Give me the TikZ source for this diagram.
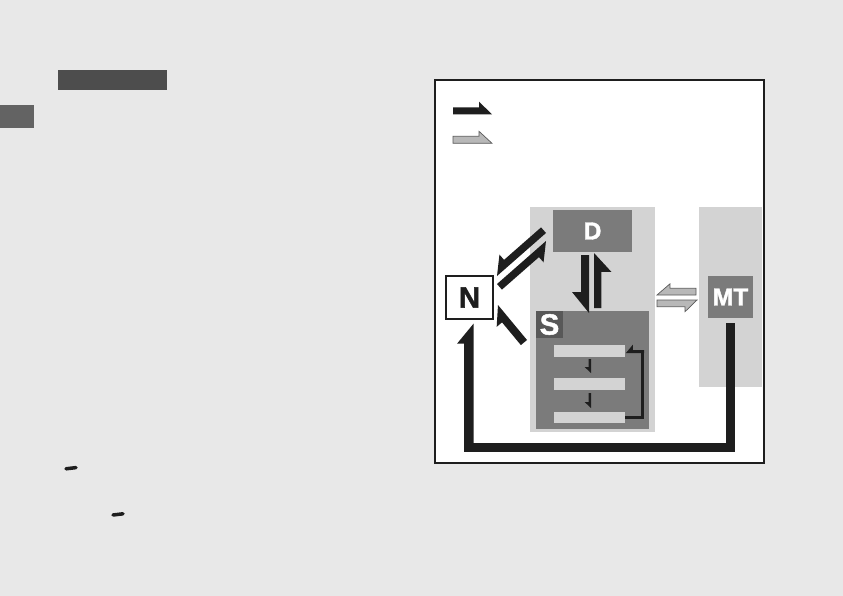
\documentclass[tikz,border=0pt]{standalone}
\usepackage{fontspec}
\setsansfont{Liberation Sans}
\newfontfamily\heavyfont[FakeBold=1.6]{Liberation Sans}
\usetikzlibrary{calc}

\definecolor{pagegray}{HTML}{E8E8E8}
\definecolor{panelgray}{HTML}{D3D3D3}
\definecolor{boxgray}{HTML}{7B7B7B}
\definecolor{labelgray}{HTML}{585858}
\definecolor{arrowgray}{HTML}{B8B8B8}
\definecolor{arrowline}{HTML}{5A5A5A}
\definecolor{inkblack}{HTML}{1E1E1E}
\definecolor{headgray}{HTML}{4D4D4D}
\definecolor{tabgray}{HTML}{636363}

% half arrow: [style]{from}{to}{side angle}{shaft}{barb}{head length}, sizes in px
\newcommand\harrow[7][]{%
  \pgfmathsetlengthmacro\arw{#5*0.8504}%
  \pgfmathsetlengthmacro\arb{(#5+#6)*0.8504}%
  \pgfmathsetlengthmacro\arh{#7*0.8504}%
  \path[#1] (#2) -- ($(#2)!\arw!#4:(#3)$) -- ($(#3)!\arh!(#2)!\arw!#4:(#3)$)
    -- ($(#3)!\arh!(#2)!\arb!#4:(#3)$) -- (#3) -- cycle;}

\tikzset{
  greybox/.style={fill=boxgray, inner sep=0pt, text=white,
    font=\heavyfont\bfseries\fontsize{21}{21}\selectfont},
  nbox/.style={greybox, fill=white, draw=inkblack, line width=1.2pt, text=inkblack,
    font=\heavyfont\bfseries\fontsize{25}{25}\selectfont},
  bar/.style={fill=panelgray, minimum width=2.13cm, minimum height=0.35cm, inner sep=0pt},
  blackarr/.style={fill=inkblack},
  greyarr/.style={fill=arrowgray, draw=arrowline, line width=0.6pt},
}

\begin{document}
\begin{tikzpicture}[x=0.03cm, y=-0.03cm]
	%%%%% PAGE %%%%%
	\fill[pagegray] (0,0) rectangle (843,596);
	\useasboundingbox (0,0) rectangle (843,596);
	
	\fill[headgray] (58,70) rectangle (167,90);
	\fill[tabgray] (0,105) rectangle (34,128);
	\draw[inkblack, line width=3pt, line cap=round] (66,468.8) -- (76,467.6);
	\draw[inkblack, line width=3pt, line cap=round] (113,515) -- (123,513.8);
	
	\draw[fill=white, draw=inkblack, line width=0.9pt] (435,80) rectangle (764,463);
	
	%%%%% LEGEND %%%%%
	\coordinate (lg1a) at (453,114.3);
	\coordinate (lg1b) at (492,114.3);
	\coordinate (lg2a) at (453,143.3);
	\coordinate (lg2b) at (492,143.3);
	\harrow[blackarr]{lg1a}{lg1b}{90}{7}{5.6}{13}
	\harrow[greyarr]{lg2a}{lg2b}{90}{7}{5}{13}
	
	%%%%% BOXES %%%%%
	\fill[panelgray] (530,207) rectangle (655,432);
	\fill[panelgray] (699,207) rectangle (762,387);
	
	\node[greybox, minimum width=2.37cm, minimum height=1.26cm] (d) at (592.5,231) {D};
	\node[greybox, minimum width=3.39cm, minimum height=3.54cm] (s) at (592.5,370) {};
	\node[greybox, fill=labelgray, minimum size=0.81cm, anchor=north west,
		font=\heavyfont\bfseries\fontsize{25}{25}\selectfont] (slabel) at (s.north west) {S};
	\foreach \i/\y in {1/351,2/384,3/417.5}
		\node[bar] (bar\i) at (589.5,\y) {};
	\node[greybox, minimum width=1.35cm, minimum height=1.26cm] (mt) at (730.5,297) {MT};
	\node[nbox, minimum width=1.41cm, minimum height=1.29cm] (n) at (469.5,297.5) {N};
	
	%%%%% ARROWS %%%%%
	\coordinate (ds1) at (589,255);
	\coordinate (ds2) at (589,313);
	\coordinate (sd1) at (594,308);
	\coordinate (sd2) at (594,253);
	\harrow[blackarr]{ds1}{ds2}{-90}{8}{9}{21}
	\harrow[blackarr]{sd1}{sd2}{-90}{7.5}{10}{19}
	
	\coordinate (dn1) at (546,233);
	\coordinate (dn2) at (497,276);
	\coordinate (nd1) at (497,284);
	\coordinate (nd2) at (546,241);
	\harrow[blackarr]{dn1}{dn2}{-90}{7.5}{7}{16}
	\harrow[blackarr]{nd1}{nd2}{-90}{7.5}{7}{16}
	
	\coordinate (sn1) at (527,340);
	\coordinate (sn2) at (498,305);
	\harrow[blackarr]{sn1}{sn2}{90}{8}{7}{16}
	
	\coordinate (ms1) at (696,295);
	\coordinate (ms2) at (657,295);
	\coordinate (sm1) at (657,300);
	\coordinate (sm2) at (697,300);
	\harrow[greyarr]{ms1}{ms2}{-90}{6.7}{4.5}{13}
	\harrow[greyarr]{sm1}{sm2}{-90}{6.7}{5}{12}
	
	\foreach \a/\b in {359/373,393/408}{
		\coordinate (st1) at (591,\a);
		\coordinate (st2) at (591,\b);
		\harrow[blackarr]{st1}{st2}{-90}{2.4}{4}{6}
	}
	
	\draw[inkblack, line width=2.55pt] (bar3.east) -| (642.5,351.5);
	\coordinate (lp1) at (644,353);
	\coordinate (lp2) at (626,353);
	\harrow[blackarr]{lp1}{lp2}{-90}{3}{5.5}{7}
	
	\draw[inkblack, line width=8.1pt] ($(mt.south)+(0,5)$) |- (468.75,447.5) -- (468.75,444);
	\coordinate (mn1) at (473.5,447);
	\coordinate (mn2) at ($(n.south)+(4,4)$);
	\harrow[blackarr]{mn1}{mn2}{90}{9.5}{7}{20}
\end{tikzpicture}
\end{document}
